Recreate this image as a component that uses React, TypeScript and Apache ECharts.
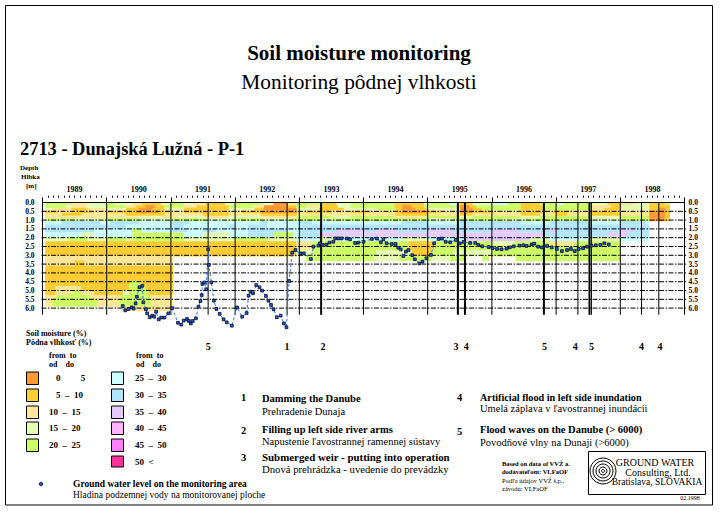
import React, { useEffect, useRef } from "react";
import * as echarts from "echarts";

const years = ["1989","1990","1991","1992","1993","1994","1995","1996","1997","1998"];
const depthTicks = [0,0.5,1,1.5,2,2.5,3,3.5,4,4.5,5,5.5,6];
const yearLines = [1989,1990,1991,1992,1993,1994,1995,1996,1997,1998,1999];
const thinEvents = [1991.58,1992.81,1997.34,1997.55,1998.33,1998.6];
const thickEvents = [1993.34,1995.47,1995.58,1996.81,1997.52];
const eventMarks: [number,string][] = [[1991.58,"5"],[1992.81,"1"],[1993.37,"2"],[1995.44,"3"],[1995.6,"4"],[1996.82,"5"],[1997.3,"4"],[1997.55,"5"],[1998.33,"4"],[1998.62,"4"]];

const classColors = ["#FF9933","#FFCC33","#FFE699","#E5FFB3","#CCFF66","#CCFFFF","#B3E5FF","#E5CCFF","#FFB3FF","#FF80FF","#FF3399"];
const classFrom = ["0","5","10","15","20","25","30","35","40","45","50"];
const classTo = ["5","10","15","20","25","30","35","40","45","50","<"];

const rowEdges = [0,0.15,0.3,0.45,0.6,0.75,0.9,1.05,1.25,1.5,1.7,1.95,2.2,2.45,2.7,3.05,3.3,3.6,4.0,4.45,4.75,5.0,5.25,5.5,5.9,6.15];
// each row: start year, moisture class, start year, class ... closing year
const row00 = [1989.04,4,1989.43,2,1989.7,3,1990,4,1990.15,3,1990.4,2,1990.55,1,1990.85,3,1991,4,1991.2,3,1991.35,2,1991.55,1,1991.85,3,1992,4,1992.4,3,1992.6,0,1992.82,2,1992.95,4,1993.37,1,1993.58,3,1993.8,4,1994.48,1,1994.95,3,1995.05,4,1995.35,5,1995.5,1,1995.7,3,1996,5,1996.25,4,1996.45,1,1996.75,4,1997,5,1997.1,4,1997.55,3,1997.8,1,1998,2,1998.25,3,1998.45,1,1998.7,4,1998.77];
const row01 = [1989.04,4,1989.35,3,1989.45,2,1989.7,3,1990,4,1990.3,2,1990.45,1,1990.6,0,1990.75,1,1990.9,4,1991.2,2,1991.4,1,1991.9,4,1992.3,2,1992.45,0,1992.82,1,1992.95,4,1993.1,2,1993.35,1,1993.6,3,1993.8,4,1994.48,1,1994.6,0,1994.75,1,1994.95,4,1995.5,0,1995.65,1,1995.75,4,1996.45,1,1996.8,4,1997.55,2,1997.85,1,1998,3,1998.45,1,1998.77];
const row02 = [1989.04,3,1989.15,2,1989.45,1,1989.7,2,1990,3,1990.3,1,1990.5,0,1990.72,1,1990.9,3,1991.2,1,1991.9,3,1992.3,1,1992.45,0,1992.96,3,1993.3,1,1993.7,3,1994.2,4,1994.5,1,1994.6,0,1994.8,1,1995,3,1995.5,0,1995.7,1,1995.85,4,1996.45,1,1996.8,4,1997.55,2,1997.75,1,1998,3,1998.45,1,1998.6,0,1998.7,1,1998.77];
const row03 = [1989.04,1,1989.25,2,1989.45,1,1989.75,2,1990,1,1990.45,0,1990.8,1,1991,2,1991.2,1,1991.9,2,1992.1,1,1992.4,0,1992.96,2,1993.1,1,1993.5,2,1993.8,1,1994.1,2,1994.5,1,1994.6,0,1995,1,1995.2,2,1995.5,0,1995.7,1,1996,2,1996.45,1,1996.8,2,1996.95,1,1997.2,2,1997.55,1,1998,2,1998.45,0,1998.72,1,1998.77];
const row04 = [1989.04,2,1989.3,1,1989.6,2,1990.3,1,1990.9,2,1991.5,1,1991.9,2,1992.4,1,1992.96,2,1994.5,1,1995,2,1995.5,1,1995.7,2,1996.45,1,1996.75,2,1997,1,1997.17,2,1997.55,1,1998,2,1998.45,0,1998.7,1,1998.77];
const row05 = [1989.04,2,1990.5,3,1990.85,2,1991.1,3,1991.5,2,1991.9,3,1992.4,2,1992.96,4,1993.5,3,1993.8,4,1994.5,2,1994.95,4,1995.5,3,1995.7,4,1996.45,3,1996.75,4,1997.55,3,1998,4,1998.45,0,1998.7,1,1998.77];
const row06 = [1989.04,4,1989.5,3,1990,4,1990.5,3,1991,4,1991.5,3,1992,4,1992.4,3,1992.9,4,1993.3,3,1993.5,4,1995,3,1995.4,4,1996.2,3,1996.5,4,1997.5,3,1998,4,1998.45,0,1998.7,1,1998.77];
const row07 = [1989.04,5,1989.3,6,1989.9,5,1990.05,6,1990.5,5,1991,6,1991.3,5,1992.4,6,1992.5,5,1993,6,1993.2,5,1994.6,6,1995,5,1995.5,6,1996.45,5,1996.9,6,1997.5,5,1998,6,1998.4,5,1998.45];
const row08 = [1989.04,6,1990.3,5,1991,6,1991.2,5,1991.9,6,1992,5,1992.2,6,1992.5,5,1993,6,1998.45];
const row09 = [1989.04,6,1989.8,5,1990.4,4,1990.55,5,1991,6,1991.25,5,1991.5,6,1991.7,5,1992.2,6,1992.8,5,1993,6,1993.6,7,1994,6,1994.2,7,1994.5,6,1995,7,1995.4,6,1996,7,1996.4,6,1996.9,7,1997,6,1998,7,1998.2,6,1998.45];
const row10 = [1989.04,5,1989.6,3,1989.8,5,1990.4,4,1991.2,5,1991.5,3,1991.9,5,1992.2,6,1992.6,4,1992.9,5,1993,6,1993.3,7,1996.8,6,1997.8,7,1998.1,6,1998.45];
const row11 = [1989.04,3,1989.4,4,1989.7,3,1990,4,1990.3,3,1990.4,4,1991.2,3,1992,4,1992.5,3,1992.95,5,1993.3,3,1993.6,5,1994.6,3,1995,5,1995.6,7,1996.6,3,1996.9,5,1997.5,3,1998,5,1998.45];
const row12 = [1989.04,1,1992.95,2,1993.2,4,1994.7,1,1995.1,4,1996,3,1996.35,4,1996.9,2,1997.3,4,1998];
const row13 = [1989.04,1,1992.95,2,1993.2,4,1994.7,1,1995.1,4,1998];
const row14 = [1989.04,1,1992.95,3,1993.2,4,1994.2,3,1994.75,1,1995.05,4,1995.4,3,1996,4,1998];
const row15 = [1989.04,2,1991.03];
const row15b = [1993.1,4,1994.15,3,1994.55,4,1995.05,3,1995.35,4,1995.6];
const row15c = [1995.85,4,1995.95];
const row15d = [1996.37,4,1998];
const row16 = [1989.04,2,1989.5,1,1989.65,2,1991.03];
const row17 = [1989.04,1,1991.03];
const row18 = [1989.04,1,1991.03];
const row19 = [1989.04,1,1990.35,4,1990.55,1,1991.03];
const row20 = [1989.04,1,1989.2,2,1989.6,1,1990.35,4,1990.6,1,1991.03];
const row21 = [1989.04,1,1989.2,2,1989.45,4,1989.6,2,1989.8,1,1990.25,3,1990.35,4,1990.65,1,1991.03];
const row22 = [1989.04,2,1989.2,4,1989.75,2,1990.2,4,1990.7,2,1991.03];
const row23 = [1989.04,2,1989.15,4,1989.85,2,1990.2,4,1990.7,2,1991.03];
const row24 = [1990.25,2,1991.03];
const rowRuns = [[row00],[row01],[row02],[row03],[row04],[row05],[row06],[row07],[row08],[row09],[row10],[row11],[row12],[row13],[row14],[row15,row15b,row15c,row15d],[row16],[row17],[row18],[row19],[row20],[row21],[row22],[row23],[row24]];

const gwYears = [1990.25,1990.29,1990.34,1990.39,1990.42,1990.45,1990.47,1990.51,1990.555,1990.57,1990.61,1990.63,1990.67,1990.71,1990.74,1990.77,1990.81,1990.85,1990.9,1990.96,1991.02,1991.11,1991.16,1991.2,1991.25,1991.28,1991.31,1991.34,1991.39,1991.43,1991.46,1991.48,1991.49,1991.52,1991.55,1991.58,1991.59,1991.63,1991.67,1991.71,1991.76,1991.82,1991.87,1991.95,1992.03,1992.11,1992.18,1992.21,1992.24,1992.28,1992.33,1992.38,1992.42,1992.48,1992.52,1992.56,1992.6,1992.65,1992.71,1992.76,1992.8,1992.84,1992.89,1992.94,1993.02,1993.07,1993.18,1993.22,1993.3,1993.32,1993.36,1993.42,1993.47,1993.53,1993.56,1993.61,1993.66,1993.74,1993.79,1993.87,1993.92,1994,1994.13,1994.21,1994.27,1994.31,1994.36,1994.44,1994.5,1994.54,1994.58,1994.62,1994.66,1994.7,1994.76,1994.8,1994.87,1994.92,1994.98,1995.05,1995.1,1995.17,1995.22,1995.28,1995.35,1995.44,1995.5,1995.56,1995.66,1995.74,1995.79,1995.85,1995.95,1996.01,1996.08,1996.15,1996.23,1996.28,1996.34,1996.43,1996.49,1996.54,1996.62,1996.66,1996.72,1996.78,1996.86,1996.93,1997.01,1997.09,1997.17,1997.23,1997.29,1997.35,1997.42,1997.48,1997.55,1997.62,1997.69,1997.75,1997.82];
const gwDepths = [5.88,6.13,6.05,5.96,6.03,5.73,5.35,4.82,4.73,5.67,6.07,6.3,6.52,6.43,6.49,6.2,6.64,6.54,6.54,6.3,6,6.83,6.94,6.71,6.62,6.73,6.87,6.73,6.58,5.92,5.6,5.26,4.63,4.54,4.93,2.66,3.55,4.54,5.58,6.05,6.33,6.64,6.81,7,5.96,6.49,6.28,5.29,5.07,5.16,4.69,4.82,5.01,5.31,5.58,5.82,6.07,6.52,6.43,6.87,7.09,4.46,2.85,2.7,2.89,2.89,3.21,2.51,2.45,2.32,2.41,2.4,2.28,2.23,2.04,2.04,2.04,2.05,2.09,2.3,2.28,2.23,2.07,2.05,2.26,2.09,2.32,2.36,2.36,2.57,2.66,3.04,2.79,2.7,3,3.23,3.46,3.36,3.17,2.98,2.32,2.07,2.05,2.23,2.26,2.13,2.32,2.24,2.3,2.3,2.41,2.49,2.53,2.59,2.64,2.66,2.62,2.55,2.49,2.45,2.43,2.47,2.38,2.34,2.51,2.55,2.47,2.55,2.64,2.76,2.7,2.64,2.76,2.64,2.6,2.51,2.45,2.43,2.41,2.32,2.38];

const serif = "'Liberation Serif', serif";
const fixedTexts: [string,number,number,number,string,string?][] = [
  ["Soil moisture monitoring",359,53,21,"bold","center"],
  ["Monitoring pôdnej vlhkosti",359,82,21.4,"normal","center"],
  ["2713 - Dunajská Lužná - P-1",20,149,18.4,"bold"],
  ["Depth",20,168,7,"bold"],["Hĺbka",21,177,7,"bold"],["[m]",26,186,7,"bold"],
  ["Soil moisture (%)",26,333,8,"bold"],["Pôdna vlhkosť (%)",26,342,8,"bold"],
  ["from  to",49,355,8,"bold"],["od    do",49,364,8,"bold"],
  ["from  to",136,355,8,"bold"],["od    do",136,364,8,"bold"],
  ["Ground water level on the monitoring area",73,484,9.5,"bold"],
  ["Hladina podzemnej vody na monitorovanej ploche",73,495,9.5,"normal"],
  ["1",241,397,10.5,"bold"],["Damming the Danube",262,398,10.5,"bold"],["Prehradenie Dunaja",262,411,10.5,"normal"],
  ["2",241,430,10.5,"bold"],["Filling up left side river arms",262,429,10.5,"bold"],["Napustenie ľavostrannej ramennej sústavy",262,441,10.5,"normal"],
  ["3",241,457,10.5,"bold"],["Submerged weir - putting into operation",262,457,10.9,"bold"],["Dnová prehrádzka - uvedenie do prevádzky",262,469,10.7,"normal"],
  ["4",457,397,10.5,"bold"],["Artificial flood in left side inundation",480,397,10.2,"bold"],["Umelá záplava v ľavostrannej inundácii",480,408,10.5,"normal"],
  ["5",457,431,10.5,"bold"],["Flood waves on the Danube (> 6000)",480,429,10.5,"bold"],["Povodňové vlny na Dunaji (>6000)",480,442,10.5,"normal"],
  ["Based on data of VVŽ a.",502,463,6.5,"bold"],["dodávateľom: VLFaOF",502,471,6.5,"bold"],
  ["Podľa údajov VVŽ š.p.,",502,480,6.5,"normal"],["závodu: VLFaOF",502,488,6.5,"normal"],
  ["GROUND WATER",655,462,10,"normal","center"],["Consulting, Ltd.",658,472,10,"normal","center"],["Bratislava, SLOVAKIA",657,482,9.5,"normal","center"],
  ["02.1998",690,498,6,"normal","center"],
];

function buildCells(){
  const out: number[][] = [];
  rowRuns.forEach((parts,i)=>parts.forEach(r=>{
    for(let k=0;k+2<r.length;k+=2) out.push([r[k],r[k+2],rowEdges[i],rowEdges[i+1],r[k+1]]);
  }));
  return out;
}

function textEl(t:string,x:number,y:number,size:number,weight:string,align="left"){
  return {type:"text",x,y,silent:true,style:{text:t,x:0,y:0,fontSize:size,fontWeight:weight,fontFamily:serif,fill:"#000",align,verticalAlign:"middle"}};
}

export default function App(){
  const ref = useRef<HTMLDivElement>(null);
  useEffect(()=>{
    document.body.style.margin="0";
    const chart = echarts.init(ref.current!,null,{renderer:"svg"});
    const L=42.5,R=684.5,T=202.5,pxPerM=17.6,maxD=8.5;
    const rowsY=[372,389,406,422,439,456];
    const graphic:any[]=[
      {type:"rect",shape:{x:5.5,y:5.5,width:707,height:499.5},style:{fill:"none",stroke:"#000",lineWidth:1},silent:true},
      {type:"rect",shape:{x:588.5,y:451.5,width:117,height:43},style:{fill:"none",stroke:"#000",lineWidth:1},silent:true},
      ...[13,10,7,4,1.5].map(r=>({type:"circle",shape:{cx:603,cy:471,r},style:{fill:"none",stroke:"#000",lineWidth:1},silent:true})),
      {type:"circle",shape:{cx:41,cy:484,r:1.8},style:{fill:"#2255dd",stroke:"#000",lineWidth:0.8},silent:true},
      ...fixedTexts.map(t=>textEl(t[0],t[1],t[2],t[3],t[4],t[5]||"left")),
    ];
    classColors.forEach((c,i)=>{
      const col=i<5?0:1, r=i<5?i:i-5;
      const x=col===0?26.5:111.5, tx=col===0?49:135;
      graphic.push({type:"rect",shape:{x,y:rowsY[r],width:12,height:r===5?11:12.5},style:{fill:c,stroke:"#000",lineWidth:1},silent:true});
      const cy=rowsY[r]+5.5;
      const rowText=classTo[i]==="<"?`${classFrom[i]}  <`:i===0?`${classFrom[i]}         ${classTo[i]}`:`${classFrom[i]}  –  ${classTo[i]}`;
      graphic.push(textEl(rowText,tx+(classFrom[i].length<2?7:0),cy,9,"bold"));
    });
    chart.setOption({
      animation:false,
      backgroundColor:"#fff",
      graphic,
      grid:{left:L,width:R-L,top:T,height:pxPerM*maxD,containLabel:false},
      xAxis:[
        {type:"value",min:1989,max:1999,show:false},
        {type:"category",data:years,position:"top",offset:4.8,boundaryGap:true,
          axisLine:{show:true,lineStyle:{color:"#000",width:1}},
          axisTick:{show:true,length:5,alignWithLabel:false,lineStyle:{color:"#000"}},
          axisLabel:{fontFamily:serif,fontWeight:"bold",fontSize:8,color:"#000",margin:4,interval:0}},
        {type:"value",min:1989,max:1999,interval:1,position:"top",offset:4.8,
          axisLine:{show:false},axisTick:{show:false},axisLabel:{show:false},splitLine:{show:false},
          minorTick:{show:true,splitNumber:12,length:2,lineStyle:{color:"#000"}}},
      ],
      yAxis:[
        {type:"value",inverse:true,min:0,max:maxD,interval:0.5,position:"left",
          axisLine:{show:false},axisTick:{show:false},splitLine:{show:false},
          axisLabel:{fontFamily:serif,fontWeight:"bold",fontSize:7.5,color:"#000",margin:8,formatter:(v:number)=>v<=6?v.toFixed(1):""}},
        {type:"value",inverse:true,min:0,max:maxD,interval:0.5,position:"right",
          axisLine:{show:false},axisTick:{show:false},splitLine:{show:false},
          axisLabel:{fontFamily:serif,fontWeight:"bold",fontSize:7.5,color:"#000",margin:4,formatter:(v:number)=>v<=6?v.toFixed(1):""}},
      ],
      series:[
        {type:"custom",silent:true,clip:false,z:1,data:buildCells(),encode:{x:[0,1],y:[2,3]},
          renderItem:(_:any,api:any)=>{
            const a=api.coord([api.value(0),api.value(2)]),b=api.coord([api.value(1),api.value(3)]);
            return {type:"rect",shape:{x:a[0],y:a[1],width:b[0]-a[0]+0.3,height:b[1]-a[1]+0.3},style:{fill:classColors[api.value(4)]}};
          }},
        {type:"custom",silent:true,clip:false,z:2,data:depthTicks.map(d=>[d]),encode:{y:0},
          renderItem:(_:any,api:any)=>{
            const d=api.value(0);
            if(d===0){
              const a=api.coord([1989,0]),b=api.coord([1999,0]);
              return {type:"line",shape:{x1:a[0],y1:a[1],x2:b[0],y2:b[1]},style:{stroke:"#000",lineWidth:1}};
            }
            const a=api.coord([1989,d]),b=api.coord([1999,d]);
            return {type:"line",shape:{x1:a[0]-1,y1:a[1],x2:b[0]+2,y2:b[1]},style:{stroke:"#000",lineWidth:1,lineDash:[5,1.5,1.5,1.5]}};
          }},
        {type:"custom",silent:true,clip:false,z:3,data:yearLines.map(y=>[y]),encode:{x:0},
          renderItem:(_:any,api:any)=>{
            const a=api.coord([api.value(0),0]),b=api.coord([api.value(0),6.38]);
            return {type:"line",shape:{x1:a[0],y1:a[1],x2:b[0],y2:b[1]},style:{stroke:"#000",lineWidth:1}};
          }},
        {type:"custom",silent:true,clip:false,z:3,data:thinEvents.map(y=>[y]),encode:{x:0},
          renderItem:(_:any,api:any)=>{
            const a=api.coord([api.value(0),0]),b=api.coord([api.value(0),6.38]);
            return {type:"line",shape:{x1:a[0],y1:a[1],x2:b[0],y2:b[1]},style:{stroke:"#000",lineWidth:1}};
          }},
        {type:"custom",silent:true,clip:false,z:3,data:thickEvents.map(y=>[y]),encode:{x:0},
          renderItem:(_:any,api:any)=>{
            const a=api.coord([api.value(0),0]),b=api.coord([api.value(0),6.38]);
            return {type:"line",shape:{x1:a[0],y1:a[1],x2:b[0],y2:b[1]},style:{stroke:"#000",lineWidth:2}};
          }},
        {type:"line",z:5,clip:false,data:gwYears.map((y,i)=>[y,gwDepths[i]]),
          lineStyle:{color:"#3377ee",width:1,type:[3,2]},symbol:"rect",symbolSize:2.8,
          itemStyle:{color:"#2255dd",borderColor:"#000",borderWidth:0.7}},
        {type:"custom",silent:true,clip:false,z:6,data:eventMarks.map(e=>[e[0],8.2,e[1]]),encode:{x:0,y:1},
          renderItem:(params:any,api:any)=>{
            const p=api.coord([api.value(0),api.value(1)]);
            return {type:"text",x:p[0],y:p[1],style:{text:eventMarks[params.dataIndex][1],fontFamily:serif,fontWeight:"bold",fontSize:10,fill:"#000",align:"center",verticalAlign:"middle"}};
          }},
      ],
    });
    return ()=>chart.dispose();
  },[]);
  return <div ref={ref} style={{position:"absolute",left:0,top:0,width:720,height:514,background:"#fff"}}/>;
}
